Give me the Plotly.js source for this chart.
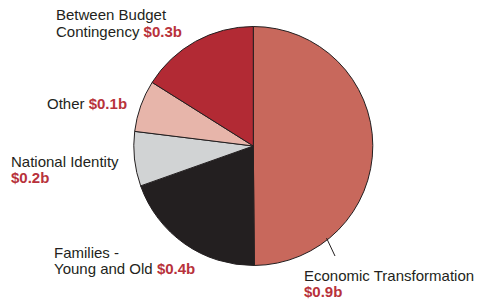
<!DOCTYPE html>
<html>
<head>
<meta charset="utf-8">
<script src="https://cdn.plot.ly/plotly-3.0.1.min.js"></script>
<style>html,body{margin:0;padding:0;background:#fff;}#chart{width:481px;height:299px;}</style>
</head>
<body>
<div id="chart"></div>
<script>
// Data (billions of dollars; slice sizes)
var categories = ["Economic Transformation", "Families - Young and Old", "National Identity", "Other", "Between Budget Contingency"];
var amounts = [0.90, 0.356, 0.133, 0.126, 0.290];
var amountLabels = ["$0.9b", "$0.4b", "$0.2b", "$0.1b", "$0.3b"];
var sliceColors = ["#C8685C", "#231F20", "#D1D3D4", "#E7B5AA", "#B22A34"];

var W = 481, H = 299;
var red = "#B8323B";
function val(i){ return "<b><span style='color:" + red + "'>" + amountLabels[i] + "</span></b>"; }
function px(x){ return x / W; }
function py(y){ return 1 - y / H; }

// label lines: [text, left x, baseline y]
var lines = [
  ["Between Budget", 55, 20],
  ["Contingency " + val(4), 55, 36],
  ["Other " + val(3), 46, 108],
  ["National Identity", 10, 166],
  [val(2), 10, 182],
  ["Families -", 53, 257],
  ["Young and Old " + val(1), 53, 273],
  ["Economic Transformation", 303, 280.5],
  [val(0), 303, 296.5]
];

var annotations = lines.map(function(l){
  return {
    text: l[0], xref: "paper", yref: "paper",
    x: px(l[1]), y: py(l[2] - 5), xanchor: "left", yanchor: "middle",
    showarrow: false, align: "left", borderpad: 0,
    font: {family: "Liberation Sans, Arial, sans-serif", size: 15, color: "#231F20"}
  };
});

var cx = 253.3, cy = 146, r = 119.5;

var trace = {
  type: "pie",
  labels: categories,
  values: amounts,
  sort: false,
  direction: "clockwise",
  rotation: 0,
  textinfo: "none",
  hoverinfo: "label+value",
  marker: {colors: sliceColors, line: {color: "#231F20", width: 1}},
  domain: {x: [px(cx - r), px(cx + r)], y: [py(cy + r), py(cy - r)]},
  showlegend: false
};

var layout = {
  width: W, height: H,
  margin: {l: 0, r: 0, t: 0, b: 0},
  paper_bgcolor: "#ffffff",
  plot_bgcolor: "#ffffff",
  showlegend: false,
  annotations: annotations,
  shapes: [{
    type: "line", xref: "paper", yref: "paper",
    x0: px(326.5), y0: py(238), x1: px(335), y1: py(256),
    line: {color: "#231F20", width: 1}
  }]
};

Plotly.newPlot("chart", [trace], layout, {displayModeBar: false, staticPlot: true});
</script>
</body>
</html>
